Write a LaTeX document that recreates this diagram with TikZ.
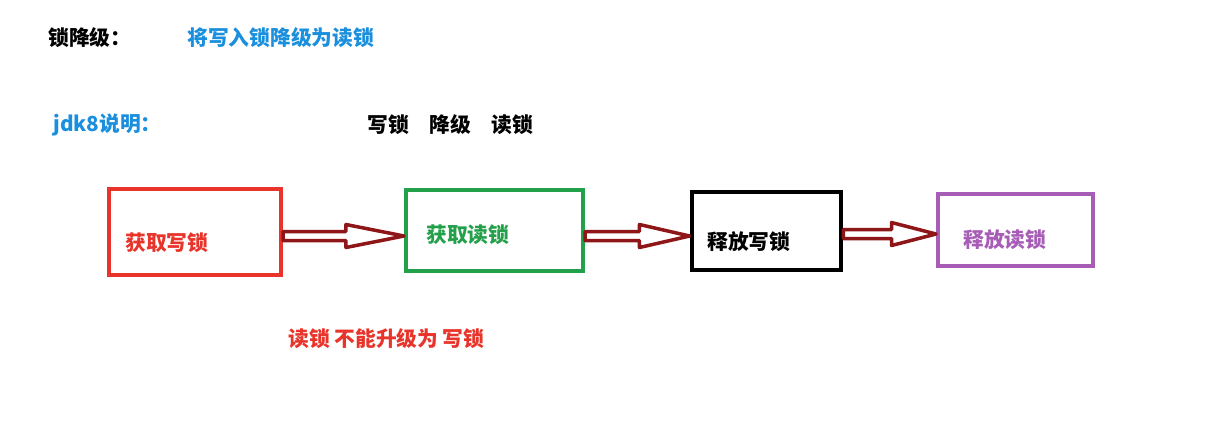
\documentclass[tikz,border=0pt]{standalone}
\usepackage{fontspec}
\setmainfont{Noto Sans CJK SC}
\usetikzlibrary{calc}
\definecolor{titleblue}{HTML}{1A8FDE}
\definecolor{boxred}{HTML}{E8342A}
\definecolor{boxgreen}{HTML}{23A04A}
\definecolor{boxpurple}{HTML}{A75DB5}
\definecolor{arrowred}{HTML}{8E1618}
\begin{document}
\begin{tikzpicture}[x=0.02cm,y=-0.02cm,
		every node/.style={inner sep=0pt,font=\fontsize{11.8}{14}\selectfont\bfseries},
		txt/.style={anchor=west},
		box/.style={draw,line width=2.3pt,minimum width=#1},
		blockarrow/.style={draw=arrowred,fill=white,line width=2pt,line join=round,
			to path={($(\tikztostart)+(0,-4.5)$) -- ($(\tikztostart)!0.52!(\tikztotarget)+(0,-4.5)$)
				-- ($(\tikztostart)!0.52!(\tikztotarget)+(0,-11.5)$) -- (\tikztotarget)
				-- ($(\tikztostart)!0.52!(\tikztotarget)+(0,11.5)$) -- ($(\tikztostart)!0.52!(\tikztotarget)+(0,4.5)$)
				-- ($(\tikztostart)+(0,4.5)$) -- cycle}}]
		
		\useasboundingbox (0,0) rectangle (1212,424);
		
		%标题
		\node[txt] (title) at (48,38) {锁降级：};
		\node[txt,titleblue] (titledesc) at (187,38) {将写入锁降级为读锁};
		\node[txt,titleblue] (jdk) at (53,125) {jdk8说明：};
		\node[txt] (order) at (367,125) {写锁\quad 降级\quad 读锁};
		
		%方框
		\node[box=3.44cm,draw=boxred,minimum height=1.72cm] (getwrite) at (195,232) {};
		\node[box=3.54cm,draw=boxgreen,minimum height=1.62cm] (getread) at (494.5,230.5) {};
		\node[box=2.98cm,draw=black,line width=2.7pt,minimum height=1.56cm] (relwrite) at (766.5,231) {};
		\node[box=3.10cm,draw=boxpurple,minimum height=1.44cm] (relread) at (1015.5,230) {};
		
		\node[txt,boxred] (getwritetxt) at (125,243) {获取写锁};
		\node[txt,boxgreen] (getreadtxt) at (426,235) {获取读锁};
		\node[txt] (relwritetxt) at (707,242) {释放写锁};
		\node[txt,boxpurple] (relreadtxt) at (963,240) {释放读锁};
		
		%箭头
		\draw[blockarrow] (getwrite.east |- 0,236) to (getread.west |- 0,236);
		\draw[blockarrow] (getread.east |- 0,236) to (relwrite.west |- 0,236);
		\draw[blockarrow] (relwrite.east |- 0,234) to (relread.west |- 0,234);
		
		%说明
		\node[txt,boxred] (note) at (288,339) {读锁 不能升级为 写锁};
	\end{tikzpicture}
\end{document}
